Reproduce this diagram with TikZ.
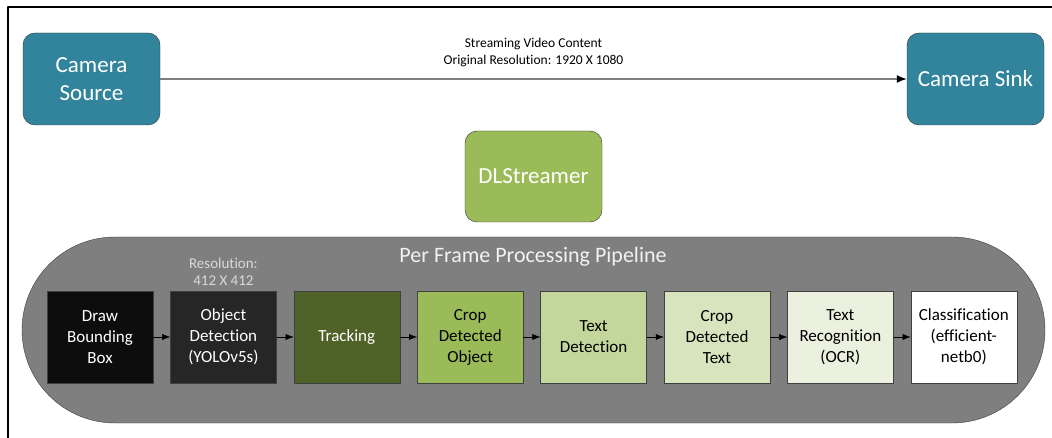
\documentclass[tikz,border=0pt]{standalone}
\usepackage{fontspec}
\setmainfont{Carlito}[Ligatures=NoCommon]
\usetikzlibrary{positioning,arrows.meta}
\definecolor{camteal}{HTML}{31849B}
\definecolor{dlgreen}{HTML}{9BBB59}
\definecolor{pipegray}{HTML}{7F7F7F}
\definecolor{stageA}{HTML}{0D0D0D}
\definecolor{stageB}{HTML}{262626}
\definecolor{stageC}{HTML}{4F6228}
\definecolor{stageD}{HTML}{9BBB59}
\definecolor{stageE}{HTML}{C3D69B}
\definecolor{stageF}{HTML}{D7E4BD}
\definecolor{stageG}{HTML}{EBF1DE}
\begin{document}
\begin{tikzpicture}[x=1pt,y=-1pt,line join=round,
  cambox/.style={draw=black!80,fill=camteal,rounded corners=12pt,minimum width=137pt,minimum height=92pt,inner sep=0pt,text=white,align=center,font=\fontsize{23}{28}\selectfont},
  stage/.style={draw=black!75,minimum width=106pt,minimum height=92pt,inner sep=0pt,align=center,font=\fontsize{17}{21}\selectfont},
  flow/.style={-{Latex[length=8pt,width=6pt]}}]
\useasboundingbox (0,0) rectangle (1052,438);
\draw[line width=2pt] (8,438) -- (8,7) -- (1052,7);

\node[cambox] (src) at (91.5,79) {Camera\\Source};
\node[cambox] (sink) at (975.5,79) {Camera Sink};
\draw[pipegray,line width=1.5pt,-{Latex[length=10pt,width=8pt,black]}] (src) -- (sink)
  node[midway,above=8pt,black,align=center,font=\fontsize{13.5}{17}\selectfont] {Streaming Video Content\\Original Resolution: 1920 X 1080};

\node[cambox,fill=dlgreen,minimum height=91pt] (dls) at (533.5,176.5) {DLStreamer};

\draw[draw=black!75,fill=pipegray,rounded corners=93pt] (22,237) rectangle (1045,423);
\node[text=black!5,font=\fontsize{22}{26}\selectfont] (title) at (533,257) {Per Frame Processing Pipeline};

\node[stage,fill=stageA,text=white] (s1) at (100,337) {Draw\\Bounding\\Box};
\node[stage,fill=stageB,text=white,right=17pt of s1] (s2) {Object\\Detection\\(YOLOv5s)};
\node[stage,fill=stageC,text=white,right=17pt of s2] (s3) {Tracking};
\node[stage,fill=stageD,right=17pt of s3] (s4) {Crop\\Detected\\Object};
\node[stage,fill=stageE,right=17pt of s4] (s5) {Text\\Detection};
\node[stage,fill=stageF,right=17pt of s5] (s6) {Crop\\Detected\\Text};
\node[stage,fill=stageG,right=17pt of s6] (s7) {Text\\Recognition\\(OCR)};
\node[stage,fill=white,right=17pt of s7] (s8) {Classification\\(efficient-\\netb0)};
\node[above=2pt of s2,text=black!15,align=center,font=\fontsize{15}{17}\selectfont] (res) {Resolution:\\412 X 412};

\foreach \a/\b in {s1/s2,s2/s3,s3/s4,s4/s5,s5/s6,s6/s7,s7/s8}
  \draw[flow] (\a) -- (\b);
\end{tikzpicture}
\end{document}
